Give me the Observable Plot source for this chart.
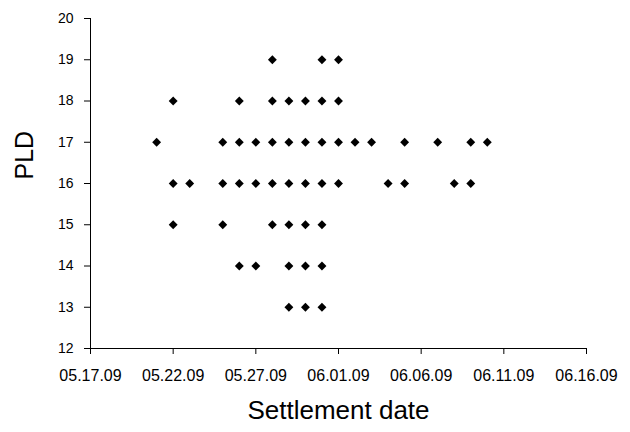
<!DOCTYPE html>
<html><head><meta charset="utf-8">
<script src="https://cdn.jsdelivr.net/npm/d3@7"></script>
<script src="https://cdn.jsdelivr.net/npm/@observablehq/plot@0.6"></script>
<style>body{margin:0;background:#fff;}</style>
</head><body><div id="chart"></div>
<script>
// Settlement dates (MM.DD, year 2009) for each PLD value
const year = "09";
const pld19 = ["05.28","05.31","06.01"];
const pld18 = ["05.22","05.26","05.28","05.29","05.30","05.31","06.01"];
const pld17 = ["05.21","05.25","05.26","05.27","05.28","05.29","05.30","05.31","06.01","06.02","06.03","06.05","06.07","06.09","06.10"];
const pld16 = ["05.22","05.23","05.25","05.26","05.27","05.28","05.29","05.30","05.31","06.01","06.04","06.05","06.08","06.09"];
const pld15 = ["05.22","05.25","05.28","05.29","05.30","05.31"];
const pld14 = ["05.26","05.27","05.29","05.30","05.31"];
const pld13 = ["05.29","05.30","05.31"];
const xTickLabels = ["05.17.09","05.22.09","05.27.09","06.01.09","06.06.09","06.11.09","06.16.09"];
const yTicks = [12,13,14,15,16,17,18,19,20];

const parse = d3.utcParse("%m.%d.%y");
const rows = [[19,pld19],[18,pld18],[17,pld17],[16,pld16],[15,pld15],[14,pld14],[13,pld13]];
const data = rows.flatMap(([v, ds]) => ds.map(d => ({date: parse(d + "." + year), pld: v})));
const xTicks = xTickLabels.map(parse);

const plot = Plot.plot({
  width: 630, height: 432,
  marginLeft: 90, marginRight: 44, marginTop: 18, marginBottom: 84,
  style: {fontFamily: "'Liberation Sans', Arial, sans-serif", background: "#fff", color: "#000"},
  x: {type: "utc", domain: [xTicks[0], xTicks[xTicks.length - 1]]},
  y: {domain: [yTicks[0], yTicks[yTicks.length - 1]]},
  marks: [
    Plot.axisX({ticks: xTicks, tickFormat: d3.utcFormat("%m.%d.%y"), tickSize: 6, tickPadding: 15, fontSize: 16, label: null}),
    Plot.axisY({ticks: yTicks, tickSize: 6, tickPadding: 11, fontSize: 14, label: null}),
    Plot.ruleX([xTicks[0]], {stroke: "#000"}),
    Plot.ruleY([yTicks[0]], {stroke: "#000"}),
    Plot.dot(data, {x: "date", y: "pld", symbol: "diamond2", r: 4, fill: "#000", stroke: null}),
    Plot.text(["PLD"], {text: d => d, frameAnchor: "left", dx: -66, dy: -4, rotate: -90, fontSize: 25}),
    Plot.text(["Settlement date"], {text: d => d, frameAnchor: "bottom", dy: 70, fontSize: 26})
  ]
});
document.getElementById("chart").appendChild(plot);
</script>
</body></html>
